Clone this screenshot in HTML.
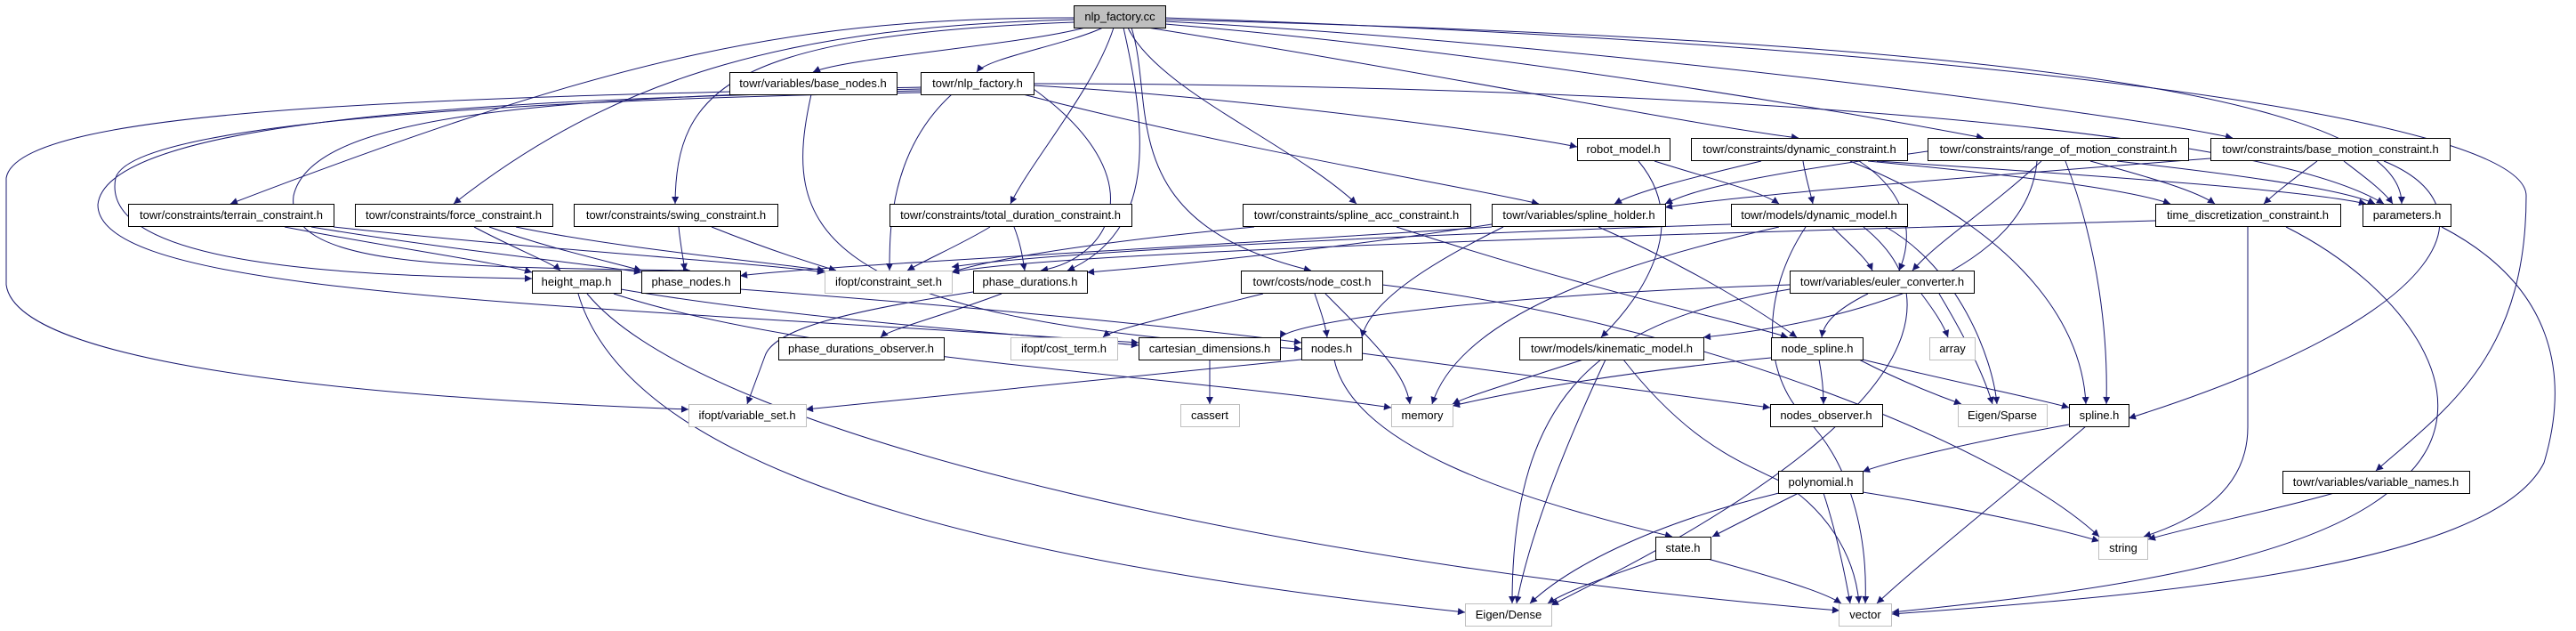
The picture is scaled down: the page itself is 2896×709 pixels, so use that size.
<!DOCTYPE html>
<html><head><meta charset="utf-8">
<style>
html,body{margin:0;padding:0;background:#fff;}
svg{display:block;}
text{font-family:"Liberation Sans",sans-serif;font-size:13px;fill:#000;}
</style></head>
<body>
<svg width="2896" height="709" viewBox="0 0 2896 709" xmlns="http://www.w3.org/2000/svg">
<defs>
<marker id="a" viewBox="0 0 10 10" refX="10" refY="5" markerWidth="10" markerHeight="8" markerUnits="userSpaceOnUse" orient="auto">
<path d="M0,0 L10,5 L0,10 z" fill="#191970"/>
</marker>
</defs>
<g fill="none" stroke="#191970" stroke-width="1" marker-end="url(#a)">
<!-- nlp_factory.cc -->
<path d="M1220 31 C1150 50 950 65 914 81"/>
<path d="M1240 31 C1200 50 1110 65 1098 81"/>
<path d="M1207 20 C900 20 700 60 259 229"/>
<path d="M1207 22 C900 30 700 80 510 229"/>
<path d="M1207 25 C820 40 760 100 759 229"/>
<path d="M1252 31 C1230 100 1160 180 1136 229"/>
<path d="M1268 31 C1300 100 1450 160 1525 229"/>
<path d="M1272 31 C1300 120 1250 250 1474 304"/>
<path d="M1263 31 C1290 150 1300 260 1200 304"/>
<path d="M1290 31 C1600 80 1900 140 2022 155"/>
<path d="M1310 27 C1700 60 2100 130 2230 155"/>
<path d="M1310 24 C1800 50 2400 130 2510 155"/>
<path d="M1310 22 C2000 40 2700 80 2700 229"/>
<path d="M1310 20 C2200 50 2840 130 2840 220 C2840 400 2750 460 2671 529"/>
<!-- nlp_factory.h -->
<path d="M1162 96 C1400 110 1700 150 1773 165"/>
<path d="M1150 106 C1400 170 1650 210 1730 229"/>
<path d="M1162 94 C1600 94 2500 120 2680 229"/>
<path d="M1070 106 C1000 170 1000 260 1000 304"/>
<path d="M1035 104 C700 110 150 130 130 200 C110 300 400 310 598 313"/>
<path d="M1035 100 C600 110 350 130 330 220 C320 300 500 300 776 304"/>
<path d="M1035 98 C500 110 20 120 7 200 L7 320 C20 420 500 450 774 460"/>
<path d="M1035 102 C600 110 120 130 110 230 C110 330 600 340 1280 385"/>
<path d="M1162 100 C1300 200 1250 290 1170 304"/>
<!-- base_nodes -->
<path d="M912 106 C880 250 900 360 1463 392"/>
<!-- terrain -->
<path d="M320 255 C450 280 560 295 598 306"/>
<path d="M350 255 C500 280 650 295 721 306"/>
<path d="M375 255 C600 280 850 295 927 306"/>
<!-- force -->
<path d="M533 255 C580 280 620 295 630 304"/>
<path d="M550 255 C620 280 690 295 721 304"/>
<path d="M580 255 C700 280 870 295 927 304"/>
<!-- swing -->
<path d="M763 255 C765 275 768 290 770 304"/>
<path d="M800 255 C850 275 900 292 940 304"/>
<!-- total -->
<path d="M1113 255 C1080 275 1040 292 1020 304"/>
<path d="M1140 255 C1148 275 1150 292 1152 304"/>
<!-- spline_acc -->
<path d="M1410 255 C1200 275 1100 295 1070 306"/>
<path d="M1570 255 C1800 330 1950 360 2010 379"/>
<!-- spline_holder -->
<path d="M1677 255 C1300 280 900 300 832 310"/>
<path d="M1677 252 C1500 280 1300 300 1222 306"/>
<path d="M1797 255 C1900 300 1980 350 2020 379"/>
<path d="M1690 255 C1600 300 1540 340 1531 379"/>
<!-- robot -->
<path d="M1860 181 C1920 200 1980 215 2000 229"/>
<path d="M1842 181 C1900 250 1850 330 1800 379"/>
<!-- dyn_c -->
<path d="M1980 181 C1900 200 1840 215 1815 229"/>
<path d="M2027 181 C2030 200 2035 215 2038 229"/>
<path d="M2090 181 C2150 220 2150 270 2135 304"/>
<path d="M2100 181 C2300 200 2400 215 2440 229"/>
<path d="M2110 181 C2400 200 2600 215 2660 229"/>
<path d="M2080 181 C2250 250 2340 350 2345 454"/>
<!-- rom -->
<path d="M2167 170 C1950 200 1900 215 1872 229"/>
<path d="M2295 181 C2230 240 2180 270 2150 304"/>
<path d="M2290 181 C2280 300 2100 360 1915 379"/>
<path d="M2350 181 C2420 200 2470 215 2490 229"/>
<path d="M2380 181 C2550 200 2640 215 2670 229"/>
<path d="M2322 181 C2360 280 2370 380 2368 454"/>
<!-- bmc -->
<path d="M2605 181 C2580 200 2560 215 2545 229"/>
<path d="M2635 181 C2660 200 2680 215 2690 229"/>
<path d="M2680 181 C2800 230 2770 350 2393 470"/>
<path d="M2485 178 C2200 200 1950 220 1872 233"/>
<!-- tdisc -->
<path d="M2423 248 C2000 260 1200 280 1070 306"/>
<path d="M2527 255 L2527 480 C2527 560 2450 590 2410 603"/>
<path d="M2570 255 C2700 320 2800 450 2700 540 C2600 640 2300 670 2127 688"/>
<!-- params -->
<path d="M2745 255 C2870 320 2890 420 2860 520 C2800 640 2400 670 2127 690"/>
<!-- dmodel -->
<path d="M2000 255 C1800 300 1640 360 1610 454"/>
<path d="M2060 255 C2080 275 2100 292 2105 304"/>
<path d="M2120 255 C2200 300 2240 400 2245 454"/>
<path d="M2030 255 C1980 330 1980 420 2030 470 C2080 520 2100 600 2097 678"/>
<path d="M1946 252 C1700 260 1200 280 1070 300"/>
<path d="M2095 255 C2300 420 1800 650 1744 680"/>
<!-- euler -->
<path d="M2160 330 C2175 350 2185 365 2190 379"/>
<path d="M2180 330 C2210 380 2230 420 2240 454"/>
<path d="M2100 330 C2060 350 2050 365 2048 379"/>
<path d="M2012 320 C1700 330 1450 360 1439 380"/>
<path d="M2012 325 C1800 360 1700 440 1700 678"/>
<!-- hmap -->
<path d="M690 330 C900 400 1300 420 1564 458"/>
<path d="M660 330 C800 500 1500 640 2068 686"/>
<path d="M650 330 C700 500 1000 620 1647 688"/>
<path d="M698 325 C900 360 1200 380 1280 388"/>
<!-- pnodes -->
<path d="M832 325 C1100 345 1350 370 1463 385"/>
<!-- pdur -->
<path d="M1126 330 C1060 355 1000 370 990 379"/>
<path d="M1094 328 C950 350 870 370 860 400 L840 454"/>
<!-- ncost -->
<path d="M1420 330 C1320 355 1250 370 1240 379"/>
<path d="M1478 330 C1485 350 1490 365 1492 379"/>
<path d="M1490 330 C1550 390 1580 420 1585 454"/>
<path d="M1554 320 C1900 360 2250 500 2360 603"/>
<!-- cart -->
<path d="M1360 404 L1360 454"/>
<!-- nodes -->
<path d="M1463 404 C1200 430 1000 450 906 460"/>
<path d="M1531 397 C1700 420 1900 445 1990 458"/>
<path d="M1500 404 C1520 500 1700 560 1880 603"/>
<!-- kin -->
<path d="M1780 404 C1700 430 1650 445 1633 454"/>
<path d="M1805 404 C1760 500 1720 600 1705 678"/>
<path d="M1825 404 C1900 500 1960 520 2000 540 C2050 570 2085 620 2090 678"/>
<!-- nspline -->
<path d="M1991 402 C1800 420 1680 445 1633 456"/>
<path d="M2045 404 C2048 420 2050 440 2050 454"/>
<path d="M2094 404 C2200 430 2300 450 2326 458"/>
<path d="M2090 404 C2140 430 2180 445 2205 454"/>
<!-- spline -->
<path d="M2326 477 C2200 500 2120 520 2094 530"/>
<path d="M2345 479 C2250 560 2150 640 2110 678"/>
<!-- poly -->
<path d="M2022 554 C1980 575 1950 590 1925 603"/>
<path d="M2000 554 C1850 590 1760 640 1720 678"/>
<path d="M2050 554 C2065 600 2075 650 2080 678"/>
<path d="M2094 553 C2200 570 2300 590 2360 608"/>
<!-- state -->
<path d="M1865 628 C1800 650 1760 665 1740 678"/>
<path d="M1920 628 C2000 650 2050 665 2070 678"/>
<!-- vnames -->
<path d="M2624 554 C2550 575 2470 590 2415 606"/>
</g>
<g stroke-width="1">
<!-- row 0 -->
<rect x="1207.5" y="6.5" width="103" height="25" fill="#bfbfbf" stroke="#000"/>
<!-- row 1 -->
<rect x="820.5" y="81.5" width="188" height="25" fill="#fff" stroke="#000"/>
<rect x="1035.5" y="81.5" width="127" height="25" fill="#fff" stroke="#000"/>
<!-- row 2 -->
<rect x="1773.5" y="155.5" width="104" height="25" fill="#fff" stroke="#000"/>
<rect x="1901.5" y="155.5" width="243" height="25" fill="#fff" stroke="#000"/>
<rect x="2167.5" y="155.5" width="293" height="25" fill="#fff" stroke="#000"/>
<rect x="2485.5" y="155.5" width="269" height="25" fill="#fff" stroke="#000"/>
<!-- row 3 -->
<rect x="144.5" y="229.5" width="231" height="25" fill="#fff" stroke="#000"/>
<rect x="399.5" y="229.5" width="222" height="25" fill="#fff" stroke="#000"/>
<rect x="645.5" y="229.5" width="229" height="25" fill="#fff" stroke="#000"/>
<rect x="1000.5" y="229.5" width="272" height="25" fill="#fff" stroke="#000"/>
<rect x="1397.5" y="229.5" width="256" height="25" fill="#fff" stroke="#000"/>
<rect x="1677.5" y="229.5" width="195" height="25" fill="#fff" stroke="#000"/>
<rect x="1946.5" y="229.5" width="198" height="25" fill="#fff" stroke="#000"/>
<rect x="2423.5" y="229.5" width="208" height="25" fill="#fff" stroke="#000"/>
<rect x="2656.5" y="229.5" width="99" height="25" fill="#fff" stroke="#000"/>
<!-- row 4 -->
<rect x="598.5" y="304.5" width="100" height="25" fill="#fff" stroke="#000"/>
<rect x="721.5" y="304.5" width="111" height="25" fill="#fff" stroke="#000"/>
<rect x="927.5" y="304.5" width="143" height="25" fill="#fff" stroke="#bfbfbf"/>
<rect x="1094.5" y="304.5" width="128" height="25" fill="#fff" stroke="#000"/>
<rect x="1395.5" y="304.5" width="159" height="25" fill="#fff" stroke="#000"/>
<rect x="2012.5" y="304.5" width="207" height="25" fill="#fff" stroke="#000"/>
<!-- row 5 -->
<rect x="875.5" y="379.5" width="186" height="25" fill="#fff" stroke="#000"/>
<rect x="1136.5" y="379.5" width="120" height="25" fill="#fff" stroke="#bfbfbf"/>
<rect x="1280.5" y="379.5" width="159" height="25" fill="#fff" stroke="#000"/>
<rect x="1463.5" y="379.5" width="68" height="25" fill="#fff" stroke="#000"/>
<rect x="1708.5" y="379.5" width="207" height="25" fill="#fff" stroke="#000"/>
<rect x="1991.5" y="379.5" width="103" height="25" fill="#fff" stroke="#000"/>
<rect x="2169.5" y="379.5" width="51" height="25" fill="#fff" stroke="#bfbfbf"/>
<!-- row 6 -->
<rect x="774.5" y="454.5" width="132" height="25" fill="#fff" stroke="#bfbfbf"/>
<rect x="1327.5" y="454.5" width="66" height="25" fill="#fff" stroke="#bfbfbf"/>
<rect x="1564.5" y="454.5" width="69" height="25" fill="#fff" stroke="#bfbfbf"/>
<rect x="1990.5" y="454.5" width="126" height="25" fill="#fff" stroke="#000"/>
<rect x="2201.5" y="454.5" width="100" height="25" fill="#fff" stroke="#bfbfbf"/>
<rect x="2326.5" y="454.5" width="67" height="25" fill="#fff" stroke="#000"/>
<!-- row 7 -->
<rect x="1999.5" y="529.5" width="95" height="25" fill="#fff" stroke="#000"/>
<rect x="2566.5" y="529.5" width="210" height="25" fill="#fff" stroke="#000"/>
<!-- row 8 -->
<rect x="1861.5" y="603.5" width="62" height="25" fill="#fff" stroke="#000"/>
<rect x="2359.5" y="603.5" width="55" height="25" fill="#fff" stroke="#bfbfbf"/>
<!-- row 9 -->
<rect x="1647.5" y="678.5" width="97" height="25" fill="#fff" stroke="#bfbfbf"/>
<rect x="2067.5" y="678.5" width="59" height="25" fill="#fff" stroke="#bfbfbf"/>
</g>
<g text-anchor="middle">
<text x="1259" y="23">nlp_factory.cc</text>
<text x="914" y="98">towr/variables/base_nodes.h</text>
<text x="1099" y="98">towr/nlp_factory.h</text>
<text x="1825" y="172">robot_model.h</text>
<text x="2023" y="172">towr/constraints/dynamic_constraint.h</text>
<text x="2314" y="172">towr/constraints/range_of_motion_constraint.h</text>
<text x="2620" y="172">towr/constraints/base_motion_constraint.h</text>
<text x="260" y="246">towr/constraints/terrain_constraint.h</text>
<text x="510" y="246">towr/constraints/force_constraint.h</text>
<text x="760" y="246">towr/constraints/swing_constraint.h</text>
<text x="1136" y="246">towr/constraints/total_duration_constraint.h</text>
<text x="1525" y="246">towr/constraints/spline_acc_constraint.h</text>
<text x="1775" y="246">towr/variables/spline_holder.h</text>
<text x="2045" y="246">towr/models/dynamic_model.h</text>
<text x="2527" y="246">time_discretization_constraint.h</text>
<text x="2706" y="246">parameters.h</text>
<text x="648" y="321">height_map.h</text>
<text x="777" y="321">phase_nodes.h</text>
<text x="999" y="321">ifopt/constraint_set.h</text>
<text x="1158" y="321">phase_durations.h</text>
<text x="1475" y="321">towr/costs/node_cost.h</text>
<text x="2116" y="321">towr/variables/euler_converter.h</text>
<text x="968" y="396">phase_durations_observer.h</text>
<text x="1196" y="396">ifopt/cost_term.h</text>
<text x="1360" y="396">cartesian_dimensions.h</text>
<text x="1497" y="396">nodes.h</text>
<text x="1812" y="396">towr/models/kinematic_model.h</text>
<text x="2043" y="396">node_spline.h</text>
<text x="2195" y="396">array</text>
<text x="840" y="471">ifopt/variable_set.h</text>
<text x="1360" y="471">cassert</text>
<text x="1599" y="471">memory</text>
<text x="2053" y="471">nodes_observer.h</text>
<text x="2251" y="471">Eigen/Sparse</text>
<text x="2360" y="471">spline.h</text>
<text x="2047" y="546">polynomial.h</text>
<text x="2671" y="546">towr/variables/variable_names.h</text>
<text x="1892" y="620">state.h</text>
<text x="2387" y="620">string</text>
<text x="1696" y="695">Eigen/Dense</text>
<text x="2097" y="695">vector</text>
</g>
</svg>
</body></html>
